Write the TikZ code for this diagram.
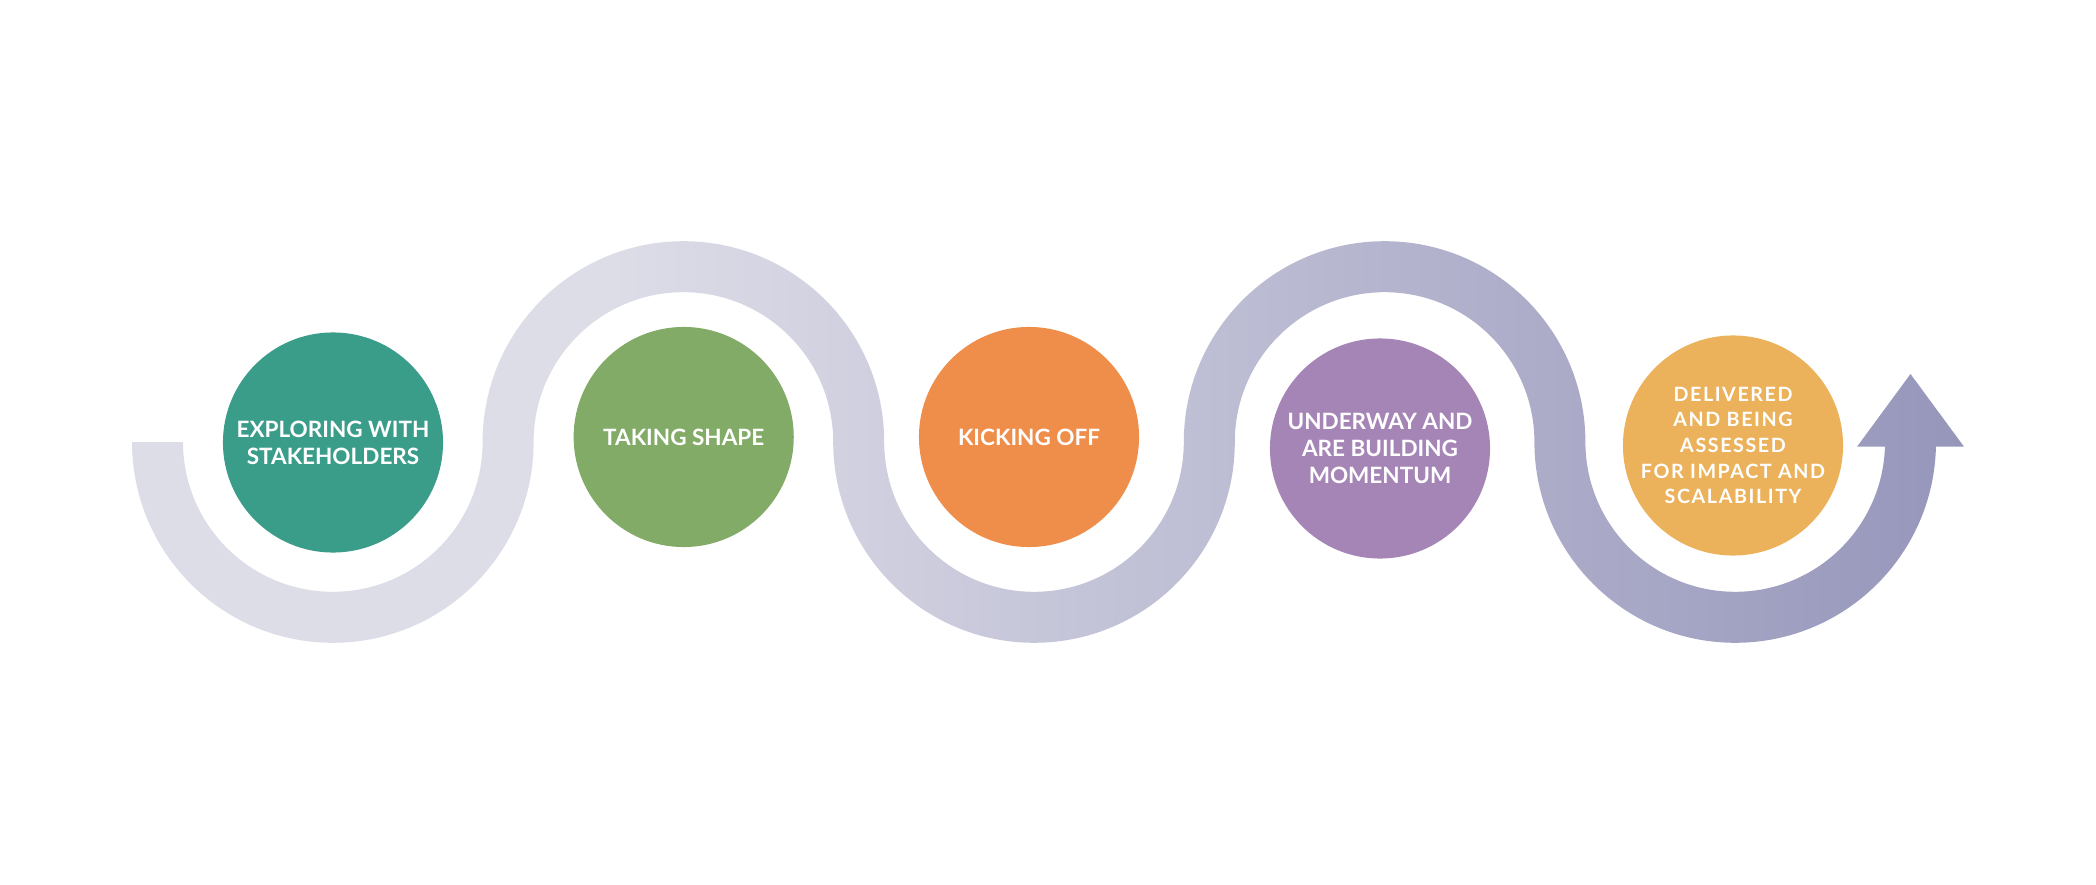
\documentclass[tikz,border=0pt]{standalone}
\usepackage{fontspec}
\setmainfont{Lato}
\usepackage{tikz}
\definecolor{explorecol}{HTML}{3A9D8A}
\definecolor{shapecol}{HTML}{82AB67}
\definecolor{kickcol}{HTML}{EF8D4A}
\definecolor{waycol}{HTML}{A585B5}
\definecolor{delivercol}{HTML}{EBB25B}
\definecolor{tracklight}{HTML}{DDDDE8}
\definecolor{trackdark}{HTML}{9696BB}
\pgfdeclarehorizontalshading{trackshade}{100bp}{color(0bp)=(tracklight); color(38bp)=(tracklight); color(75bp)=(trackdark); color(100bp)=(trackdark)}

\begin{document}
\begin{tikzpicture}[x=0.01cm,y=0.01cm,
 stage/.style={circle,minimum size=2.2cm,inner sep=0pt,text=white,align=center,
  font=\fontsize{6.4}{7.7}\selectfont\bfseries}]
 \useasboundingbox (0,0) rectangle (2096,884);
 % the winding track with its arrow head
 \shade[shading=trackshade] (132,442)
  arc[start angle=180,end angle=360,radius=200.8]
  arc[start angle=180,end angle=0,radius=149.8]
  arc[start angle=180,end angle=360,radius=200.8]
  arc[start angle=180,end angle=0,radius=149.8]
  arc[start angle=180,end angle=360,radius=200.8]
  -- ++(0,-4.7) -- ++(28,0) -- ++(-53.5,72.7) -- ++(-53.5,-72.7) -- ++(28,0) -- ++(0,4.7)
  arc[start angle=0,end angle=-180,radius=149.8]
  arc[start angle=0,end angle=180,radius=200.8]
  arc[start angle=0,end angle=-180,radius=149.8]
  arc[start angle=0,end angle=180,radius=200.8]
  arc[start angle=0,end angle=-180,radius=149.8]
  -- cycle;
 \node[stage,fill=explorecol] (explore)  at (333,441.5)  {EXPLORING WITH\\STAKEHOLDERS};
 \node[stage,fill=shapecol]   (shape)    at (683.7,447)  {TAKING SHAPE};
 \node[stage,fill=kickcol]    (kick)     at (1029,447)   {KICKING OFF};
 \node[stage,fill=waycol]     (underway) at (1380,435.5) {UNDERWAY AND\\ARE BUILDING\\MOMENTUM};
 \node[stage,fill=delivercol,font=\fontsize{5.6}{7.3}\selectfont\bfseries\addfontfeature{LetterSpace=8}]
  (deliver) at (1733,438.5) {DELIVERED\\AND BEING\\ASSESSED\\FOR IMPACT AND\\SCALABILITY};
\end{tikzpicture}
\end{document}
